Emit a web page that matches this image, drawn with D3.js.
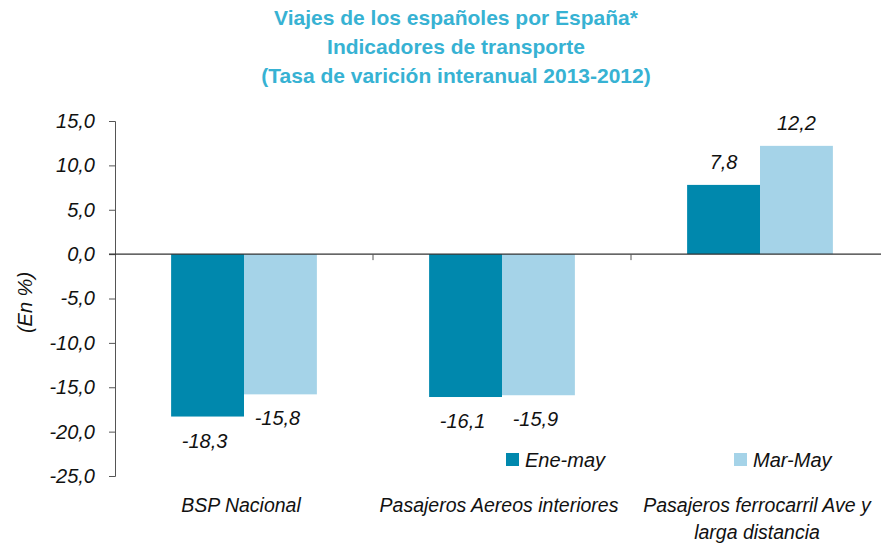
<!DOCTYPE html>
<html>
<head>
<meta charset="utf-8">
<script src="https://cdn.jsdelivr.net/npm/d3@7"></script>
<style>
  body { margin: 0; background: #fff; }
  text { font-family: "Liberation Sans", Arial, sans-serif; }
</style>
</head>
<body>
<div id="chart"></div>
<script>
// data
const categories = ["BSP Nacional", "Pasajeros Aereos interiores", "Pasajeros ferrocarril Ave y larga distancia"];
const categoryLines = [["BSP Nacional"], ["Pasajeros Aereos interiores"], ["Pasajeros ferrocarril Ave y", "larga distancia"]];
const series = ["Ene-may", "Mar-May"];
const eneMay = [-18.3, -16.1, 7.8];
const marMay = [-15.8, -15.9, 12.2];
const yTicks = [15, 10, 5, 0, -5, -10, -15, -20, -25];
const titleLines = ["Viajes de los españoles por España*", "Indicadores de transporte", "(Tasa de varición interanual 2013-2012)"];

const width = 881, height = 543;
const margin = { top: 121, right: -8, bottom: 67, left: 115 };
const colors = ["#0088ad", "#a5d3e8"];
const fmt = v => d3.format(".1f")(v).replace(".", ",").replace("\u2212", "-");

const svg = d3.select("#chart").append("svg")
    .attr("width", width)
    .attr("height", height);

// title
svg.append("g").selectAll("text")
    .data(titleLines)
    .enter().append("text")
    .attr("x", 456)
    .attr("y", (d, i) => 25 + i * 29)
    .attr("text-anchor", "middle")
    .attr("fill", "#37b2d3")
    .style("font-size", "21px")
    .style("font-weight", "bold")
    .text(d => d);

const x0 = d3.scaleBand()
    .domain(categories)
    .range([margin.left, width - margin.right])
    .paddingInner(0)
    .paddingOuter(0);

const x1 = d3.scaleBand()
    .domain(series)
    .range([0, x0.bandwidth()])
    .paddingOuter(0.77)
    .paddingInner(0);

const y = d3.scaleLinear()
    .domain([-25, 15])
    .range([height - margin.bottom, margin.top]);

// y axis
const yAxis = d3.axisLeft(y)
    .tickValues(yTicks)
    .tickSize(6)
    .tickFormat(fmt);

const gy = svg.append("g")
    .attr("transform", "translate(" + margin.left + ",0)")
    .call(yAxis);
gy.select(".domain").attr("stroke", "#555");
gy.selectAll(".tick line").attr("stroke", "#555");
gy.selectAll(".tick text")
    .attr("x", -20)
    .attr("fill", "#111")
    .style("font-size", "20px")
    .style("font-style", "italic")
    .style("font-family", "Liberation Sans, Arial, sans-serif");

svg.append("text")
    .attr("transform", "translate(32," + (y(-5) + 4) + ") rotate(-90)")
    .attr("text-anchor", "middle")
    .attr("fill", "#111")
    .style("font-size", "20px")
    .style("font-style", "italic")
    .text("(En %)");

// bars
const rows = categories.map((c, i) => ({ cat: c, i: i, values: [eneMay[i], marMay[i]] }));

const groups = svg.append("g").selectAll("g")
    .data(rows)
    .enter().append("g")
    .attr("transform", d => "translate(" + x0(d.cat) + ",0)");

groups.selectAll("rect")
    .data(d => d.values.map((v, k) => ({ key: series[k], value: v, k: k })))
    .enter().append("rect")
    .attr("x", d => x1(d.key))
    .attr("width", x1.bandwidth())
    .attr("y", d => y(Math.max(0, d.value)))
    .attr("height", d => Math.abs(y(d.value) - y(0)))
    .attr("fill", d => colors[d.k]);

groups.selectAll("text.val")
    .data(d => d.values.map((v, k) => ({ key: series[k], value: v, k: k })))
    .enter().append("text")
    .attr("class", "val")
    .attr("x", d => x1(d.key) + x1.bandwidth() / 2 + (d.value < 0 ? -3 : 0))
    .attr("y", d => d.value >= 0 ? y(d.value) - 16 : y(d.value) + 31)
    .attr("text-anchor", "middle")
    .attr("fill", "#111")
    .style("font-size", "20px")
    .style("font-style", "italic")
    .text(d => fmt(d.value));

// zero line with category ticks
svg.append("line")
    .attr("x1", margin.left - 6)
    .attr("x2", width)
    .attr("y1", y(0))
    .attr("y2", y(0))
    .attr("stroke", "#333")
    .attr("stroke-width", 1.3);

svg.append("g").selectAll("line")
    .data(categories.slice(1))
    .enter().append("line")
    .attr("x1", d => x0(d))
    .attr("x2", d => x0(d))
    .attr("y1", y(0))
    .attr("y2", y(0) + 6)
    .attr("stroke", "#555");

// category labels
const cl = svg.append("g").selectAll("text")
    .data(categoryLines)
    .enter().append("text")
    .attr("text-anchor", "middle")
    .attr("fill", "#111")
    .style("font-size", "19.5px")
    .style("font-style", "italic");

cl.each(function (lines, i) {
    d3.select(this).selectAll("tspan")
        .data(lines)
        .enter().append("tspan")
        .attr("x", x0(categories[i]) + x0.bandwidth() / 2 - 3)
        .attr("y", (d, j) => 512 + j * 27)
        .text(d => d);
});

// legend
const legendX = [506, 734];
const legend = svg.append("g").selectAll("g")
    .data(series)
    .enter().append("g")
    .attr("transform", (d, i) => "translate(" + legendX[i] + ",453)");
legend.append("rect")
    .attr("width", 13)
    .attr("height", 13)
    .attr("fill", (d, i) => colors[i]);
legend.append("text")
    .attr("x", 19)
    .attr("y", 14)
    .attr("fill", "#111")
    .style("font-size", "20px")
    .style("font-style", "italic")
    .text(d => d);
</script>
</body>
</html>
